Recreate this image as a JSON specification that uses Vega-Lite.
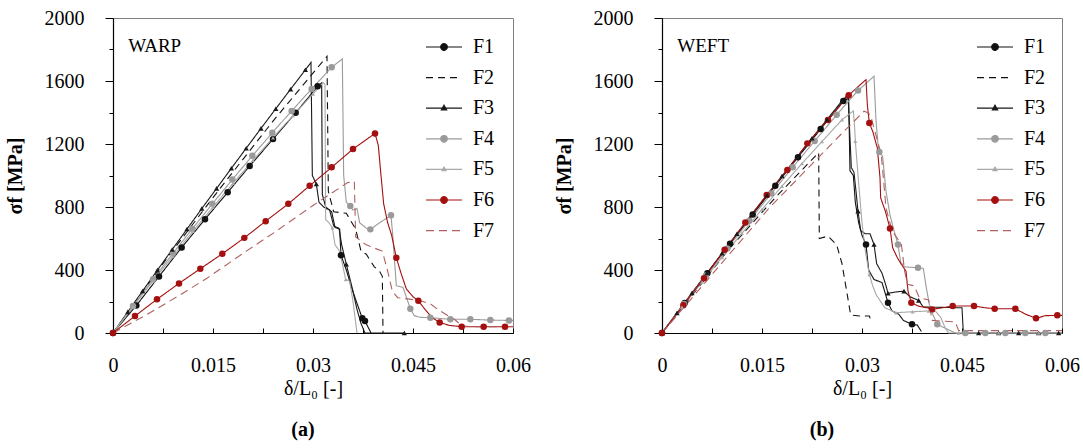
{
"$schema": "https://vega.github.io/schema/vega-lite/v6.json",
"padding": {"left": 4, "top": 7, "right": 1, "bottom": 1},
"spacing": 149,
"bounds": "flush",
"datasets": {
"curves": [
{"p":"A","s":"F1","x":0,"y":0,"m":1},{"p":"A","s":"F1","x":0.0035,"y":175,"m":1},{"p":"A","s":"F1","x":0.0069,"y":359,"m":1},{"p":"A","s":"F1","x":0.0103,"y":543,"m":1},{"p":"A","s":"F1","x":0.0138,"y":722,"m":1},{"p":"A","s":"F1","x":0.0172,"y":893,"m":1},{"p":"A","s":"F1","x":0.0205,"y":1060,"m":1},{"p":"A","s":"F1","x":0.024,"y":1231,"m":1},{"p":"A","s":"F1","x":0.0274,"y":1398,"m":1},{"p":"A","s":"F1","x":0.0307,"y":1567,"m":1},{"p":"A","s":"F1","x":0.0313,"y":1588},{"p":"A","s":"F1","x":0.0314,"y":880},{"p":"A","s":"F1","x":0.0319,"y":800},{"p":"A","s":"F1","x":0.0328,"y":770},{"p":"A","s":"F1","x":0.0333,"y":670},{"p":"A","s":"F1","x":0.034,"y":660},{"p":"A","s":"F1","x":0.0342,"y":493,"m":1},{"p":"A","s":"F1","x":0.035,"y":400},{"p":"A","s":"F1","x":0.0357,"y":300},{"p":"A","s":"F1","x":0.0365,"y":200},{"p":"A","s":"F1","x":0.0374,"y":93,"m":1},{"p":"A","s":"F1","x":0.0378,"y":76,"m":1},{"p":"A","s":"F1","x":0.0387,"y":0},
{"p":"A","s":"F2","x":0,"y":0},{"p":"A","s":"F2","x":0.008,"y":470},{"p":"A","s":"F2","x":0.016,"y":915},{"p":"A","s":"F2","x":0.024,"y":1345},{"p":"A","s":"F2","x":0.0321,"y":1757},{"p":"A","s":"F2","x":0.0323,"y":900},{"p":"A","s":"F2","x":0.0331,"y":770},{"p":"A","s":"F2","x":0.035,"y":760},{"p":"A","s":"F2","x":0.0364,"y":660},{"p":"A","s":"F2","x":0.0372,"y":520},{"p":"A","s":"F2","x":0.038,"y":500},{"p":"A","s":"F2","x":0.0392,"y":420},{"p":"A","s":"F2","x":0.04,"y":390},{"p":"A","s":"F2","x":0.0404,"y":360},{"p":"A","s":"F2","x":0.0405,"y":0},
{"p":"A","s":"F3","x":0,"y":0},{"p":"A","s":"F3","x":0.00222,"y":134,"m":1},{"p":"A","s":"F3","x":0.00444,"y":267,"m":1},{"p":"A","s":"F3","x":0.00666,"y":399,"m":1},{"p":"A","s":"F3","x":0.00888,"y":530,"m":1},{"p":"A","s":"F3","x":0.0111,"y":660,"m":1},{"p":"A","s":"F3","x":0.01332,"y":790,"m":1},{"p":"A","s":"F3","x":0.01554,"y":918,"m":1},{"p":"A","s":"F3","x":0.01776,"y":1046,"m":1},{"p":"A","s":"F3","x":0.01998,"y":1173,"m":1},{"p":"A","s":"F3","x":0.0222,"y":1299,"m":1},{"p":"A","s":"F3","x":0.02442,"y":1424,"m":1},{"p":"A","s":"F3","x":0.02664,"y":1548,"m":1},{"p":"A","s":"F3","x":0.02886,"y":1671,"m":1},{"p":"A","s":"F3","x":0.0297,"y":1718},{"p":"A","s":"F3","x":0.0299,"y":1000},{"p":"A","s":"F3","x":0.0305,"y":946,"m":1},{"p":"A","s":"F3","x":0.0309,"y":830},{"p":"A","s":"F3","x":0.0316,"y":800},{"p":"A","s":"F3","x":0.0325,"y":780},{"p":"A","s":"F3","x":0.0331,"y":680},{"p":"A","s":"F3","x":0.0339,"y":665},{"p":"A","s":"F3","x":0.0343,"y":560},{"p":"A","s":"F3","x":0.035,"y":436,"m":1},{"p":"A","s":"F3","x":0.0358,"y":300},{"p":"A","s":"F3","x":0.0366,"y":150},{"p":"A","s":"F3","x":0.0372,"y":60},{"p":"A","s":"F3","x":0.0378,"y":0},{"p":"A","s":"F3","x":0.0437,"y":0,"m":1},
{"p":"A","s":"F4","x":0,"y":0},{"p":"A","s":"F4","x":0.003,"y":172,"m":1},{"p":"A","s":"F4","x":0.006,"y":341,"m":1},{"p":"A","s":"F4","x":0.009,"y":506,"m":1},{"p":"A","s":"F4","x":0.0119,"y":662,"m":1},{"p":"A","s":"F4","x":0.0149,"y":820,"m":1},{"p":"A","s":"F4","x":0.0179,"y":974,"m":1},{"p":"A","s":"F4","x":0.0209,"y":1125,"m":1},{"p":"A","s":"F4","x":0.0239,"y":1272,"m":1},{"p":"A","s":"F4","x":0.0268,"y":1410,"m":1},{"p":"A","s":"F4","x":0.0298,"y":1550,"m":1},{"p":"A","s":"F4","x":0.0328,"y":1687,"m":1},{"p":"A","s":"F4","x":0.0344,"y":1740},{"p":"A","s":"F4","x":0.0346,"y":1000},{"p":"A","s":"F4","x":0.035,"y":830},{"p":"A","s":"F4","x":0.0356,"y":806,"m":1},{"p":"A","s":"F4","x":0.036,"y":780},{"p":"A","s":"F4","x":0.0366,"y":790},{"p":"A","s":"F4","x":0.037,"y":700},{"p":"A","s":"F4","x":0.038,"y":665},{"p":"A","s":"F4","x":0.0386,"y":658,"m":1},{"p":"A","s":"F4","x":0.04,"y":700},{"p":"A","s":"F4","x":0.0417,"y":747,"m":1},{"p":"A","s":"F4","x":0.042,"y":600},{"p":"A","s":"F4","x":0.0425,"y":300},{"p":"A","s":"F4","x":0.0435,"y":290},{"p":"A","s":"F4","x":0.0446,"y":154,"m":1},{"p":"A","s":"F4","x":0.0452,"y":110},{"p":"A","s":"F4","x":0.046,"y":100},{"p":"A","s":"F4","x":0.0476,"y":97,"m":1},{"p":"A","s":"F4","x":0.0506,"y":87,"m":1},{"p":"A","s":"F4","x":0.0536,"y":87,"m":1},{"p":"A","s":"F4","x":0.0566,"y":82,"m":1},{"p":"A","s":"F4","x":0.0594,"y":80,"m":1},{"p":"A","s":"F4","x":0.06,"y":80},
{"p":"A","s":"F5","x":0,"y":0},{"p":"A","s":"F5","x":0.003,"y":166,"m":1},{"p":"A","s":"F5","x":0.006,"y":330,"m":1},{"p":"A","s":"F5","x":0.009,"y":489,"m":1},{"p":"A","s":"F5","x":0.012,"y":646,"m":1},{"p":"A","s":"F5","x":0.015,"y":800,"m":1},{"p":"A","s":"F5","x":0.018,"y":950,"m":1},{"p":"A","s":"F5","x":0.021,"y":1097,"m":1},{"p":"A","s":"F5","x":0.024,"y":1240,"m":1},{"p":"A","s":"F5","x":0.027,"y":1381,"m":1},{"p":"A","s":"F5","x":0.03,"y":1518,"m":1},{"p":"A","s":"F5","x":0.0315,"y":1590},{"p":"A","s":"F5","x":0.0318,"y":1580},{"p":"A","s":"F5","x":0.0319,"y":720},{"p":"A","s":"F5","x":0.0324,"y":700},{"p":"A","s":"F5","x":0.0329,"y":668,"m":1},{"p":"A","s":"F5","x":0.0333,"y":560},{"p":"A","s":"F5","x":0.034,"y":520},{"p":"A","s":"F5","x":0.0345,"y":420},{"p":"A","s":"F5","x":0.0349,"y":340,"m":1},{"p":"A","s":"F5","x":0.0355,"y":330},{"p":"A","s":"F5","x":0.036,"y":200},{"p":"A","s":"F5","x":0.0366,"y":0},
{"p":"A","s":"F6","x":0,"y":0,"m":1},{"p":"A","s":"F6","x":0.0033,"y":108,"m":1},{"p":"A","s":"F6","x":0.0066,"y":214,"m":1},{"p":"A","s":"F6","x":0.0099,"y":315,"m":1},{"p":"A","s":"F6","x":0.0131,"y":408,"m":1},{"p":"A","s":"F6","x":0.0164,"y":503,"m":1},{"p":"A","s":"F6","x":0.0197,"y":604,"m":1},{"p":"A","s":"F6","x":0.0229,"y":710,"m":1},{"p":"A","s":"F6","x":0.0263,"y":820,"m":1},{"p":"A","s":"F6","x":0.0295,"y":935,"m":1},{"p":"A","s":"F6","x":0.0328,"y":1052,"m":1},{"p":"A","s":"F6","x":0.036,"y":1168,"m":1},{"p":"A","s":"F6","x":0.0393,"y":1267,"m":1},{"p":"A","s":"F6","x":0.0398,"y":1190},{"p":"A","s":"F6","x":0.0402,"y":1000},{"p":"A","s":"F6","x":0.0406,"y":820},{"p":"A","s":"F6","x":0.0412,"y":700},{"p":"A","s":"F6","x":0.0418,"y":620},{"p":"A","s":"F6","x":0.0425,"y":478,"m":1},{"p":"A","s":"F6","x":0.0432,"y":380},{"p":"A","s":"F6","x":0.044,"y":280},{"p":"A","s":"F6","x":0.045,"y":230},{"p":"A","s":"F6","x":0.0458,"y":205,"m":1},{"p":"A","s":"F6","x":0.0468,"y":150},{"p":"A","s":"F6","x":0.0478,"y":100},{"p":"A","s":"F6","x":0.049,"y":66,"m":1},{"p":"A","s":"F6","x":0.0505,"y":48},{"p":"A","s":"F6","x":0.0523,"y":40,"m":1},{"p":"A","s":"F6","x":0.0556,"y":40,"m":1},{"p":"A","s":"F6","x":0.0588,"y":40,"m":1},{"p":"A","s":"F6","x":0.06,"y":40},
{"p":"A","s":"F7","x":0,"y":0},{"p":"A","s":"F7","x":0.005,"y":115},{"p":"A","s":"F7","x":0.01,"y":240},{"p":"A","s":"F7","x":0.0141,"y":348},{"p":"A","s":"F7","x":0.02,"y":520},{"p":"A","s":"F7","x":0.0244,"y":644},{"p":"A","s":"F7","x":0.03,"y":810},{"p":"A","s":"F7","x":0.0352,"y":955},{"p":"A","s":"F7","x":0.0362,"y":962},{"p":"A","s":"F7","x":0.0364,"y":610},{"p":"A","s":"F7","x":0.0379,"y":562},{"p":"A","s":"F7","x":0.0397,"y":531},{"p":"A","s":"F7","x":0.0404,"y":520},{"p":"A","s":"F7","x":0.0412,"y":393},{"p":"A","s":"F7","x":0.0419,"y":266},{"p":"A","s":"F7","x":0.0427,"y":224},{"p":"A","s":"F7","x":0.0445,"y":215},{"p":"A","s":"F7","x":0.0465,"y":200},{"p":"A","s":"F7","x":0.0477,"y":182},{"p":"A","s":"F7","x":0.0487,"y":150},{"p":"A","s":"F7","x":0.0499,"y":119},{"p":"A","s":"F7","x":0.0512,"y":87},{"p":"A","s":"F7","x":0.0524,"y":44},{"p":"A","s":"F7","x":0.054,"y":40},{"p":"A","s":"F7","x":0.06,"y":40},
{"p":"B","s":"F1","x":0,"y":0,"m":1},{"p":"B","s":"F1","x":0.0034,"y":191,"m":1},{"p":"B","s":"F1","x":0.0068,"y":380,"m":1},{"p":"B","s":"F1","x":0.0102,"y":567,"m":1},{"p":"B","s":"F1","x":0.0136,"y":752,"m":1},{"p":"B","s":"F1","x":0.017,"y":935,"m":1},{"p":"B","s":"F1","x":0.0204,"y":1116,"m":1},{"p":"B","s":"F1","x":0.0238,"y":1295,"m":1},{"p":"B","s":"F1","x":0.0272,"y":1473,"m":1},{"p":"B","s":"F1","x":0.028,"y":1490},{"p":"B","s":"F1","x":0.0282,"y":1030},{"p":"B","s":"F1","x":0.0287,"y":1000},{"p":"B","s":"F1","x":0.029,"y":830},{"p":"B","s":"F1","x":0.0295,"y":700},{"p":"B","s":"F1","x":0.03,"y":620},{"p":"B","s":"F1","x":0.0306,"y":562,"m":1},{"p":"B","s":"F1","x":0.031,"y":400},{"p":"B","s":"F1","x":0.0318,"y":340},{"p":"B","s":"F1","x":0.033,"y":320},{"p":"B","s":"F1","x":0.0335,"y":250},{"p":"B","s":"F1","x":0.0339,"y":192,"m":1},{"p":"B","s":"F1","x":0.0345,"y":140},{"p":"B","s":"F1","x":0.0355,"y":120},{"p":"B","s":"F1","x":0.0362,"y":80},{"p":"B","s":"F1","x":0.0375,"y":55,"m":1},{"p":"B","s":"F1","x":0.0383,"y":50},{"p":"B","s":"F1","x":0.0389,"y":10},
{"p":"B","s":"F2","x":0,"y":0},{"p":"B","s":"F2","x":0.01,"y":530},{"p":"B","s":"F2","x":0.017,"y":860},{"p":"B","s":"F2","x":0.0235,"y":1145},{"p":"B","s":"F2","x":0.0236,"y":600},{"p":"B","s":"F2","x":0.0249,"y":615},{"p":"B","s":"F2","x":0.0262,"y":560},{"p":"B","s":"F2","x":0.027,"y":440},{"p":"B","s":"F2","x":0.0278,"y":240},{"p":"B","s":"F2","x":0.0283,"y":115},{"p":"B","s":"F2","x":0.0296,"y":108},{"p":"B","s":"F2","x":0.0311,"y":108},{"p":"B","s":"F2","x":0.0314,"y":70},
{"p":"B","s":"F3","x":0,"y":0},{"p":"B","s":"F3","x":0.00225,"y":128,"m":1},{"p":"B","s":"F3","x":0.0045,"y":255,"m":1},{"p":"B","s":"F3","x":0.00675,"y":381,"m":1},{"p":"B","s":"F3","x":0.009,"y":506,"m":1},{"p":"B","s":"F3","x":0.01125,"y":630,"m":1},{"p":"B","s":"F3","x":0.0135,"y":753,"m":1},{"p":"B","s":"F3","x":0.01575,"y":875,"m":1},{"p":"B","s":"F3","x":0.018,"y":997,"m":1},{"p":"B","s":"F3","x":0.02025,"y":1117,"m":1},{"p":"B","s":"F3","x":0.0225,"y":1237,"m":1},{"p":"B","s":"F3","x":0.02475,"y":1356,"m":1},{"p":"B","s":"F3","x":0.027,"y":1473,"m":1},{"p":"B","s":"F3","x":0.0279,"y":1515},{"p":"B","s":"F3","x":0.0284,"y":1050},{"p":"B","s":"F3","x":0.0288,"y":1020},{"p":"B","s":"F3","x":0.0291,"y":900},{"p":"B","s":"F3","x":0.0294,"y":774,"m":1},{"p":"B","s":"F3","x":0.0298,"y":650},{"p":"B","s":"F3","x":0.0305,"y":630},{"p":"B","s":"F3","x":0.0312,"y":630},{"p":"B","s":"F3","x":0.0318,"y":562,"m":1},{"p":"B","s":"F3","x":0.0322,"y":440},{"p":"B","s":"F3","x":0.033,"y":380},{"p":"B","s":"F3","x":0.0336,"y":300},{"p":"B","s":"F3","x":0.0339,"y":252,"m":1},{"p":"B","s":"F3","x":0.035,"y":260},{"p":"B","s":"F3","x":0.0363,"y":266,"m":1},{"p":"B","s":"F3","x":0.0372,"y":230},{"p":"B","s":"F3","x":0.0385,"y":207,"m":1},{"p":"B","s":"F3","x":0.0392,"y":165},{"p":"B","s":"F3","x":0.045,"y":160},{"p":"B","s":"F3","x":0.0452,"y":0},{"p":"B","s":"F3","x":0.0475,"y":0,"m":1},{"p":"B","s":"F3","x":0.0505,"y":0,"m":1},{"p":"B","s":"F3","x":0.0535,"y":0,"m":1},{"p":"B","s":"F3","x":0.0565,"y":0,"m":1},{"p":"B","s":"F3","x":0.0595,"y":0,"m":1},{"p":"B","s":"F3","x":0.06,"y":0},
{"p":"B","s":"F4","x":0,"y":0},{"p":"B","s":"F4","x":0.0033,"y":184,"m":1},{"p":"B","s":"F4","x":0.0066,"y":365,"m":1},{"p":"B","s":"F4","x":0.0098,"y":537,"m":1},{"p":"B","s":"F4","x":0.0131,"y":713,"m":1},{"p":"B","s":"F4","x":0.0164,"y":886,"m":1},{"p":"B","s":"F4","x":0.0196,"y":1052,"m":1},{"p":"B","s":"F4","x":0.0229,"y":1219,"m":1},{"p":"B","s":"F4","x":0.0262,"y":1385,"m":1},{"p":"B","s":"F4","x":0.0294,"y":1539,"m":1},{"p":"B","s":"F4","x":0.0318,"y":1630},{"p":"B","s":"F4","x":0.0321,"y":1350},{"p":"B","s":"F4","x":0.0324,"y":1200},{"p":"B","s":"F4","x":0.0326,"y":1150,"m":1},{"p":"B","s":"F4","x":0.0331,"y":1120},{"p":"B","s":"F4","x":0.0336,"y":900},{"p":"B","s":"F4","x":0.0342,"y":750},{"p":"B","s":"F4","x":0.0348,"y":650},{"p":"B","s":"F4","x":0.0354,"y":562,"m":1},{"p":"B","s":"F4","x":0.0358,"y":450},{"p":"B","s":"F4","x":0.0364,"y":420},{"p":"B","s":"F4","x":0.0384,"y":414,"m":1},{"p":"B","s":"F4","x":0.0392,"y":410},{"p":"B","s":"F4","x":0.0396,"y":300},{"p":"B","s":"F4","x":0.0401,"y":180},{"p":"B","s":"F4","x":0.0406,"y":120},{"p":"B","s":"F4","x":0.0413,"y":55,"m":1},{"p":"B","s":"F4","x":0.042,"y":40},{"p":"B","s":"F4","x":0.043,"y":20},{"p":"B","s":"F4","x":0.044,"y":0},{"p":"B","s":"F4","x":0.0455,"y":0,"m":1},{"p":"B","s":"F4","x":0.0485,"y":0,"m":1},{"p":"B","s":"F4","x":0.0515,"y":0,"m":1},{"p":"B","s":"F4","x":0.0545,"y":0,"m":1},{"p":"B","s":"F4","x":0.0575,"y":0,"m":1},{"p":"B","s":"F4","x":0.06,"y":0},
{"p":"B","s":"F5","x":0,"y":0},{"p":"B","s":"F5","x":0.003,"y":163,"m":1},{"p":"B","s":"F5","x":0.006,"y":324,"m":1},{"p":"B","s":"F5","x":0.009,"y":480,"m":1},{"p":"B","s":"F5","x":0.012,"y":634,"m":1},{"p":"B","s":"F5","x":0.015,"y":785,"m":1},{"p":"B","s":"F5","x":0.018,"y":932,"m":1},{"p":"B","s":"F5","x":0.021,"y":1076,"m":1},{"p":"B","s":"F5","x":0.024,"y":1216,"m":1},{"p":"B","s":"F5","x":0.027,"y":1354,"m":1},{"p":"B","s":"F5","x":0.0287,"y":1410},{"p":"B","s":"F5","x":0.0289,"y":1300},{"p":"B","s":"F5","x":0.029,"y":1218,"m":1},{"p":"B","s":"F5","x":0.0295,"y":950},{"p":"B","s":"F5","x":0.03,"y":700},{"p":"B","s":"F5","x":0.0305,"y":520},{"p":"B","s":"F5","x":0.0311,"y":372,"m":1},{"p":"B","s":"F5","x":0.0316,"y":300},{"p":"B","s":"F5","x":0.0321,"y":245},{"p":"B","s":"F5","x":0.0334,"y":161},{"p":"B","s":"F5","x":0.0351,"y":129,"m":1},{"p":"B","s":"F5","x":0.0376,"y":135,"m":1},{"p":"B","s":"F5","x":0.04,"y":140,"m":1},{"p":"B","s":"F5","x":0.041,"y":140},{"p":"B","s":"F5","x":0.0418,"y":100},{"p":"B","s":"F5","x":0.0425,"y":30},{"p":"B","s":"F5","x":0.043,"y":0},{"p":"B","s":"F5","x":0.0445,"y":0,"m":1},{"p":"B","s":"F5","x":0.0505,"y":0,"m":1},{"p":"B","s":"F5","x":0.0565,"y":0,"m":1},{"p":"B","s":"F5","x":0.06,"y":0},
{"p":"B","s":"F6","x":0,"y":0,"m":1},{"p":"B","s":"F6","x":0.0032,"y":176,"m":1},{"p":"B","s":"F6","x":0.0063,"y":348,"m":1},{"p":"B","s":"F6","x":0.0094,"y":528,"m":1},{"p":"B","s":"F6","x":0.0125,"y":702,"m":1},{"p":"B","s":"F6","x":0.0157,"y":876,"m":1},{"p":"B","s":"F6","x":0.0188,"y":1035,"m":1},{"p":"B","s":"F6","x":0.0218,"y":1204,"m":1},{"p":"B","s":"F6","x":0.0249,"y":1352,"m":1},{"p":"B","s":"F6","x":0.028,"y":1510,"m":1},{"p":"B","s":"F6","x":0.0306,"y":1609},{"p":"B","s":"F6","x":0.0308,"y":1450},{"p":"B","s":"F6","x":0.0311,"y":1334,"m":1},{"p":"B","s":"F6","x":0.0316,"y":1281},{"p":"B","s":"F6","x":0.0323,"y":1175},{"p":"B","s":"F6","x":0.0327,"y":985},{"p":"B","s":"F6","x":0.0328,"y":858},{"p":"B","s":"F6","x":0.0335,"y":774},{"p":"B","s":"F6","x":0.0342,"y":664,"m":1},{"p":"B","s":"F6","x":0.0346,"y":541},{"p":"B","s":"F6","x":0.0353,"y":478},{"p":"B","s":"F6","x":0.0359,"y":436},{"p":"B","s":"F6","x":0.0366,"y":393},{"p":"B","s":"F6","x":0.0369,"y":266},{"p":"B","s":"F6","x":0.0374,"y":192,"m":1},{"p":"B","s":"F6","x":0.0385,"y":170},{"p":"B","s":"F6","x":0.0398,"y":160},{"p":"B","s":"F6","x":0.0405,"y":150,"m":1},{"p":"B","s":"F6","x":0.042,"y":160},{"p":"B","s":"F6","x":0.0436,"y":171,"m":1},{"p":"B","s":"F6","x":0.0468,"y":171,"m":1},{"p":"B","s":"F6","x":0.0485,"y":160},{"p":"B","s":"F6","x":0.0499,"y":154,"m":1},{"p":"B","s":"F6","x":0.053,"y":154,"m":1},{"p":"B","s":"F6","x":0.0545,"y":120},{"p":"B","s":"F6","x":0.0561,"y":93,"m":1},{"p":"B","s":"F6","x":0.0575,"y":110},{"p":"B","s":"F6","x":0.0593,"y":112,"m":1},{"p":"B","s":"F6","x":0.06,"y":112},
{"p":"B","s":"F7","x":0,"y":0},{"p":"B","s":"F7","x":0.01,"y":495},{"p":"B","s":"F7","x":0.0161,"y":795},{"p":"B","s":"F7","x":0.0273,"y":1281},{"p":"B","s":"F7","x":0.0303,"y":1408},{"p":"B","s":"F7","x":0.0308,"y":1400},{"p":"B","s":"F7","x":0.0313,"y":1380},{"p":"B","s":"F7","x":0.0318,"y":1300},{"p":"B","s":"F7","x":0.0329,"y":1133},{"p":"B","s":"F7","x":0.0336,"y":793},{"p":"B","s":"F7","x":0.0345,"y":650},{"p":"B","s":"F7","x":0.0359,"y":564},{"p":"B","s":"F7","x":0.0364,"y":393},{"p":"B","s":"F7","x":0.0368,"y":309},{"p":"B","s":"F7","x":0.0378,"y":300},{"p":"B","s":"F7","x":0.0386,"y":224},{"p":"B","s":"F7","x":0.04,"y":210},{"p":"B","s":"F7","x":0.0405,"y":80},{"p":"B","s":"F7","x":0.044,"y":70},{"p":"B","s":"F7","x":0.0445,"y":15},{"p":"B","s":"F7","x":0.06,"y":15}
]
},
"hconcat": [
{
"width": 400, "height": 315,
"title": {"text": "(a)", "orient": "bottom", "anchor": "middle", "frame": "group", "font": "Liberation Serif", "fontSize": 20, "fontWeight": "bold", "color": "black", "offset": 22, "dx": -10},
"encoding": {
"x": {"field": "x", "type": "quantitative", "scale": {"domain": [0, 0.06], "nice": false}, "axis": {"title": "δ/L₀ [-]", "values": [0,0.0075,0.015,0.0225,0.03,0.0375,0.045,0.0525,0.06], "labelExpr": "round(datum.value*10000) % 150 == 0 ? format(datum.value, '.3~f') : ''", "tickSize": -5, "labelPadding": 27, "labelFlush": false, "labelOverlap": false, "titlePadding": 3, "titleFontWeight": "normal"}},
"y": {"field": "y", "type": "quantitative", "scale": {"domain": [0, 2000], "nice": false}, "axis": {"title": "σf [MPa]", "values": [0,200,400,600,800,1000,1200,1400,1600,1800,2000], "format": "d", "labelExpr": "datum.value % 400 == 0 ? datum.label : ''", "tickSize": {"condition": {"test": "datum.value % 400 == 0", "value": 8}, "value": 4}, "labelPadding": 21, "labelOverlap": false, "titlePadding": 19, "titleFontWeight": "bold"}}
},
"layer": [
{"data": {"name": "curves"}, "transform": [{"filter": "datum.p == 'A'"}],
"mark": {"type": "line", "strokeWidth": 1.1},
"encoding": {
"color": {"field": "s", "type": "nominal", "scale": {"domain": ["F1","F2","F3","F4","F5","F6","F7"], "range": ["#111111","#111111","#1a1a1a","#9a9a9a","#a8a8a8","#a40f0f","#b06060"]},
"legend": {"title": null, "orient": "none", "legendX": 320, "legendY": 18, "padding": 0, "labelFont": "Liberation Serif", "labelFontSize": 20, "labelColor": "black", "symbolSize": 400, "labelOffset": 18, "rowPadding": 9.6,
"encode": {"symbols": {"update": {
"shape": {"signal": "(datum.value=='F1'||datum.value=='F4'||datum.value=='F6') ? 'M-1.8,0H1.8M0.33,0C0.33,0.18,0.18,0.33,0,0.33C-0.18,0.33,-0.33,0.18,-0.33,0C-0.33,-0.18,-0.18,-0.33,0,-0.33C0.18,-0.33,0.33,-0.18,0.33,0Z' : datum.value=='F3' ? 'M-1.8,0H1.8M0,-0.3L0.27,0.18L-0.27,0.18Z' : datum.value=='F5' ? 'M-1.8,0H1.8M0,-0.22L0.2,0.13L-0.2,0.13Z' : 'M-1.8,0H1.8'"},
"fill": {"signal": "datum.value=='F4' ? '#9a9a9a' : datum.value=='F5' ? '#a8a8a8' : datum.value=='F6' ? '#a40f0f' : datum.value=='F7' ? '#b06060' : '#111111'"},
"stroke": {"signal": "datum.value=='F4' ? '#9a9a9a' : datum.value=='F5' ? '#a8a8a8' : datum.value=='F6' ? '#a40f0f' : datum.value=='F7' ? '#b06060' : '#111111'"},
"strokeWidth": {"value": 1.2},
"opacity": {"value": 1}
}}}}},
"strokeDash": {"field": "s", "type": "nominal", "scale": {"domain": ["F1","F2","F3","F4","F5","F6","F7"], "range": [[1,0],[7,5],[1,0],[1,0],[1,0],[1,0],[8,5]]}, "legend": null},
"order": {"value": null}
}},
{"data": {"name": "curves"}, "transform": [{"filter": "datum.p == 'A' && datum.m == 1 && (datum.s == 'F1' || datum.s == 'F4' || datum.s == 'F6')"}],
"mark": {"type": "point", "filled": true, "opacity": 1, "shape": "circle", "size": 42},
"encoding": {"color": {"field": "s", "type": "nominal", "legend": null}}},
{"data": {"name": "curves"}, "transform": [{"filter": "datum.p == 'A' && datum.m == 1 && datum.s == 'F3'"}],
"mark": {"type": "point", "filled": true, "opacity": 1, "shape": "triangle-up", "size": 28},
"encoding": {"color": {"field": "s", "type": "nominal", "legend": null}}},
{"data": {"name": "curves"}, "transform": [{"filter": "datum.p == 'A' && datum.m == 1 && datum.s == 'F5'"}],
"mark": {"type": "point", "filled": true, "opacity": 1, "shape": "triangle-up", "size": 16},
"encoding": {"color": {"field": "s", "type": "nominal", "legend": null}}},
{"data": {"values": [{"x": 0.0023, "y": 1820, "t": "WARP"}]},
"mark": {"type": "text", "align": "left", "baseline": "middle", "font": "Liberation Serif", "fontSize": 19, "color": "black"},
"encoding": {"text": {"field": "t"}}}
]
},
{
"width": 400, "height": 315,
"title": {"text": "(b)", "orient": "bottom", "anchor": "middle", "frame": "group", "font": "Liberation Serif", "fontSize": 20, "fontWeight": "bold", "color": "black", "offset": 22, "dx": -40},
"encoding": {
"x": {"field": "x", "type": "quantitative", "scale": {"domain": [0, 0.06], "nice": false}, "axis": {"title": "δ/L₀ [-]", "values": [0,0.0075,0.015,0.0225,0.03,0.0375,0.045,0.0525,0.06], "labelExpr": "round(datum.value*10000) % 150 == 0 ? format(datum.value, '.3~f') : ''", "tickSize": -5, "labelPadding": 27, "labelFlush": false, "labelOverlap": false, "titlePadding": 3, "titleFontWeight": "normal"}},
"y": {"field": "y", "type": "quantitative", "scale": {"domain": [0, 2000], "nice": false}, "axis": {"title": "σf [MPa]", "values": [0,200,400,600,800,1000,1200,1400,1600,1800,2000], "format": "d", "labelExpr": "datum.value % 400 == 0 ? datum.label : ''", "tickSize": {"condition": {"test": "datum.value % 400 == 0", "value": 8}, "value": 4}, "labelPadding": 21, "labelOverlap": false, "titlePadding": 19, "titleFontWeight": "bold"}}
},
"layer": [
{"data": {"name": "curves"}, "transform": [{"filter": "datum.p == 'B'"}],
"mark": {"type": "line", "strokeWidth": 1.1},
"encoding": {
"color": {"field": "s", "type": "nominal", "scale": {"domain": ["F1","F2","F3","F4","F5","F6","F7"], "range": ["#111111","#111111","#1a1a1a","#9a9a9a","#a8a8a8","#a40f0f","#b06060"]},
"legend": {"title": null, "orient": "none", "legendX": 322, "legendY": 18, "padding": 0, "labelFont": "Liberation Serif", "labelFontSize": 20, "labelColor": "black", "symbolSize": 400, "labelOffset": 18, "rowPadding": 9.6,
"encode": {"symbols": {"update": {
"shape": {"signal": "(datum.value=='F1'||datum.value=='F4'||datum.value=='F6') ? 'M-1.8,0H1.8M0.33,0C0.33,0.18,0.18,0.33,0,0.33C-0.18,0.33,-0.33,0.18,-0.33,0C-0.33,-0.18,-0.18,-0.33,0,-0.33C0.18,-0.33,0.33,-0.18,0.33,0Z' : datum.value=='F3' ? 'M-1.8,0H1.8M0,-0.3L0.27,0.18L-0.27,0.18Z' : datum.value=='F5' ? 'M-1.8,0H1.8M0,-0.22L0.2,0.13L-0.2,0.13Z' : 'M-1.8,0H1.8'"},
"fill": {"signal": "datum.value=='F4' ? '#9a9a9a' : datum.value=='F5' ? '#a8a8a8' : datum.value=='F6' ? '#a40f0f' : datum.value=='F7' ? '#b06060' : '#111111'"},
"stroke": {"signal": "datum.value=='F4' ? '#9a9a9a' : datum.value=='F5' ? '#a8a8a8' : datum.value=='F6' ? '#a40f0f' : datum.value=='F7' ? '#b06060' : '#111111'"},
"strokeWidth": {"value": 1.2},
"opacity": {"value": 1}
}}}}},
"strokeDash": {"field": "s", "type": "nominal", "scale": {"domain": ["F1","F2","F3","F4","F5","F6","F7"], "range": [[1,0],[7,5],[1,0],[1,0],[1,0],[1,0],[8,5]]}, "legend": null},
"order": {"value": null}
}},
{"data": {"name": "curves"}, "transform": [{"filter": "datum.p == 'B' && datum.m == 1 && (datum.s == 'F1' || datum.s == 'F4' || datum.s == 'F6')"}],
"mark": {"type": "point", "filled": true, "opacity": 1, "shape": "circle", "size": 42},
"encoding": {"color": {"field": "s", "type": "nominal", "legend": null}}},
{"data": {"name": "curves"}, "transform": [{"filter": "datum.p == 'B' && datum.m == 1 && datum.s == 'F3'"}],
"mark": {"type": "point", "filled": true, "opacity": 1, "shape": "triangle-up", "size": 28},
"encoding": {"color": {"field": "s", "type": "nominal", "legend": null}}},
{"data": {"name": "curves"}, "transform": [{"filter": "datum.p == 'B' && datum.m == 1 && datum.s == 'F5'"}],
"mark": {"type": "point", "filled": true, "opacity": 1, "shape": "triangle-up", "size": 16},
"encoding": {"color": {"field": "s", "type": "nominal", "legend": null}}},
{"data": {"values": [{"x": 0.0023, "y": 1820, "t": "WEFT"}]},
"mark": {"type": "text", "align": "left", "baseline": "middle", "font": "Liberation Serif", "fontSize": 19, "color": "black"},
"encoding": {"text": {"field": "t"}}}
]
}
],
"resolve": {"scale": {"color": "independent", "strokeDash": "independent"}, "legend": {"color": "independent", "strokeDash": "independent"}},
"config": {
"view": {"stroke": "#808080", "strokeWidth": 1},
"font": "Liberation Serif",
"axis": {"labelFont": "Liberation Serif", "labelFontSize": 20, "labelColor": "black", "titleFont": "Liberation Serif", "titleFontSize": 20, "titleColor": "black", "domainColor": "black", "domainWidth": 1.2, "tickColor": "black", "tickWidth": 1, "grid": false}
}
}
